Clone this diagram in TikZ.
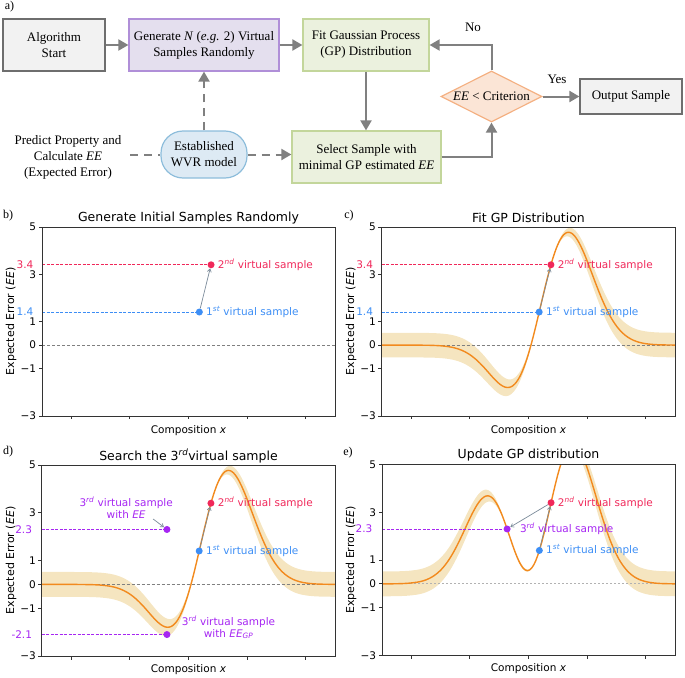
\documentclass[tikz,border=0pt]{standalone}
\usepackage{fontspec}
\setmainfont{Liberation Serif}
\newfontfamily\plotfont{DejaVu Sans}
\usetikzlibrary{shapes.geometric,arrows.meta}
\definecolor{grayfill}{HTML}{F2F2F2}
\definecolor{grayline}{HTML}{6E6E6E}
\definecolor{purfill}{HTML}{E4DFEE}
\definecolor{purline}{HTML}{B08FD8}
\definecolor{grnfill}{HTML}{EBF1DE}
\definecolor{grnline}{HTML}{C3D69B}
\definecolor{blufill}{HTML}{DDEAF4}
\definecolor{bluline}{HTML}{8DBDDB}
\definecolor{orfill}{HTML}{FBE5D6}
\definecolor{orline}{HTML}{F4B183}
\definecolor{arrgray}{HTML}{808080}
\definecolor{ptred}{HTML}{F0285A}
\definecolor{ptblue}{HTML}{3D8EF5}
\definecolor{ptpurple}{HTML}{A626F2}
\definecolor{curvec}{HTML}{F28A1E}
\definecolor{bandc}{HTML}{F5E5C0}
\definecolor{annarrowc}{HTML}{7A8A99}
\definecolor{spinec}{HTML}{333333}
\tikzset{
 fbox/.style={draw, line width=1.2pt, align=center, font=\fontsize{13}{16}\selectfont, inner sep=2pt},
 flowarrow/.style={draw=arrgray, line width=2pt, -{Triangle[length=10pt,width=11pt]}},
 dasharrow/.style={flowarrow, dash pattern=on 8pt off 6pt},
 dashline/.style={draw=arrgray, line width=2pt, dash pattern=on 8pt off 6pt},
 ptnode/.style={circle, inner sep=0pt, minimum size=7pt},
 annarr/.style={draw=annarrowc, line width=0.7pt, -{Straight Barb[length=3pt,width=4pt]}},
 lbl/.style={font=\plotfont\fontsize{10.5}{12}\selectfont, inner sep=0pt},
 ttl/.style={font=\plotfont\fontsize{12.5}{14}\selectfont, inner sep=0pt},
 ylbl/.style={font=\plotfont\fontsize{11}{13}\selectfont, rotate=90, inner sep=0pt},
 panel/.style={font=\fontsize{12}{14}\selectfont, inner sep=0pt},
 spine/.style={draw=spinec, line width=0.9pt},
 zline/.style={draw=gray, line width=0.8pt, dash pattern=on 3pt off 2pt},
 refline/.style={line width=0.8pt, dash pattern=on 3pt off 1.5pt},
 gpcurve/.style={draw=curvec, line width=1.4pt},
}
\newcommand\drawaxes[1]{%
 \draw[spine] (0,-3) rectangle (10,5);
 \foreach \t/\l [count=\i] in {5/5,3/3,1/1,0/0,-1/−1,-3/−3}{
   \draw[spine] (0,\t) -- ++(-3.5pt,0) node[lbl, anchor=east, inner sep=2pt] (#1y\i) {\l};
 }
 \foreach \t [count=\i] in {1,3,5,7,9}{
   \draw[spine] (\t,-3) -- ++(0,-3.5pt) coordinate (#1x\i);
 }
}
\newcommand\bandB{\fill[bandc] plot[domain=0:10,samples=201] (\x,{mB(\x)+hB(\x)}) -- plot[domain=10:0,samples=201] (\x,{mB(\x)-hB(\x)}) -- cycle;}
\newcommand\curveB{\draw[gpcurve] plot[domain=0:10,samples=201] (\x,{mB(\x)});}
\newcommand\bandE{\fill[bandc] plot[domain=0:10,samples=241] (\x,{mE(\x)+hE(\x)}) -- plot[domain=10:0,samples=241] (\x,{mE(\x)-hE(\x)}) -- cycle;}
\newcommand\curveE{\draw[gpcurve] plot[domain=0:10,samples=241] (\x,{mE(\x)});}
\begin{document}
\begin{tikzpicture}[x=1pt,y=-1pt,
 declare function={
  gk(\u,\c)=exp(-0.5*(\u-\c)*(\u-\c));
  mB(\u)=-11.75863*gk(\u,5.37)+14.25458*gk(\u,5.77);
  qB(\a,\b)=1-6.76329*(\a*\a+\b*\b-1.846232*\a*\b);
  hB(\u)=0.52*sqrt(max(qB(gk(\u,5.37),gk(\u,5.77)),0));
  mE(\u)=8.45646*gk(\u,4.27)-25.85014*gk(\u,5.37)+24.51718*gk(\u,5.77);
  qE(\a,\b,\c)=1-(2.06593*\a*\a+12.49983*\b*\b+9.80596*\c*\c-6.88518*\a*\b+5.01438*\a*\c-20.84232*\b*\c);
  hE(\u)=0.52*sqrt(max(qE(gk(\u,4.27),gk(\u,5.37),gk(\u,5.77)),0));
 }]
\useasboundingbox (0,0) rectangle (685,677);
% ---------------- flowchart ----------------
\node[panel] (pa) at (9.5,7) {a)};
\node[fbox, fill=grayfill, draw=grayline, minimum width=102pt, minimum height=52pt] (start) at (54,45) {Algorithm\\Start};
\node[fbox, fill=purfill, draw=purline, minimum width=150pt, minimum height=52pt] (gen) at (204,45) {Generate \textit{N} (\textit{e.g.} 2) Virtual\\Samples Randomly};
\node[fbox, fill=grnfill, draw=grnline, minimum width=126pt, minimum height=52pt] (fit) at (366,45) {Fit Gaussian Process\\(GP) Distribution};
\node[fbox, fill=blufill, draw=bluline, rounded corners=22pt, minimum width=86pt, minimum height=47pt] (wvr) at (204,154.5) {Established\\WVR model};
\node[fbox, fill=grnfill, draw=grnline, minimum width=149pt, minimum height=52pt] (sel) at (366.5,157) {Select Sample with\\minimal GP estimated \textit{EE}};
\node[fbox, diamond, aspect=2, inner sep=0pt, fill=orfill, draw=orline, minimum width=101pt, minimum height=51pt] (dia) at (491.5,96.5) {\textit{EE} < Criterion};
\node[fbox, fill=grayfill, draw=grayline, minimum width=102pt, minimum height=35pt] (out) at (631,96.5) {Output Sample};
\node[align=center, font=\fontsize{13}{16}\selectfont, inner sep=0pt] (pred) at (68,157) {Predict Property and\\Calculate \textit{EE}\\(Expected Error)};
\coordinate (predE) at (130,154.5);
\node[font=\fontsize{13}{16}\selectfont, inner sep=0pt] (no) at (473,27) {No};
\node[font=\fontsize{13}{16}\selectfont, inner sep=0pt] (yes) at (557,79) {Yes};
\draw[flowarrow] (start) -- (gen);
\draw[flowarrow] (gen) -- (fit);
\draw[flowarrow] (fit.south) -- (fit.south |- sel.north);
\draw[flowarrow] (sel.east) -| (dia.south);
\draw[flowarrow] (dia.north) |- (fit.east);
\draw[flowarrow] (dia.east) -- (out.west);
\draw[dasharrow] (wvr.north) -- (gen.south);
\draw[dashline] (predE) -- (wvr.west);
\draw[dasharrow] (wvr.east) -- (wvr.east -| sel.west);
% ---------------- panel b ----------------
\node[panel] (pb) at (8,216) {b)};
\node[ttl] (tb) at (188.5,218) {Generate Initial Samples Randomly};
\node[ylbl] (ylb) at (11,321.5) {Expected Error (\textit{EE})};
\node[lbl] (xlb) at (188.5,431) {Composition \textit{x}};
\begin{scope}[shift={(42pt,-345.1pt)}, x=29.3pt, y=23.625pt]
 \draw[zline] (0,0) -- (10,0);
 \draw[refline, ptred] (0,3.4) -- (5.77,3.4);
 \draw[refline, ptblue] (0,1.4) -- (5.37,1.4);
 \drawaxes{b}
 \node[ptnode, fill=ptblue] (b1) at (5.37,1.4) {};
 \node[ptnode, fill=ptred] (b2) at (5.77,3.4) {};
 \draw[annarr] (b1) -- (b2);
 \node[lbl, anchor=west, text=ptblue] (b1l) at ([xshift=3pt]b1.east) {1\textsuperscript{\itshape st} virtual sample};
 \node[lbl, anchor=west, text=ptred] (b2l) at ([xshift=3pt]b2.east) {2\textsuperscript{\itshape nd} virtual sample};
 \node[lbl, anchor=east, text=ptred] (b34) at ([xshift=-8.5pt]0,3.4) {3.4};
 \node[lbl, anchor=east, text=ptblue] (b14) at ([xshift=-8.5pt]0,1.4) {1.4};
\end{scope}
% ---------------- panel c ----------------
\node[panel] (pc) at (349,216) {c)};
\node[ttl] (tc) at (528.5,218) {Fit GP Distribution};
\node[ylbl] (ylc) at (351,321.5) {Expected Error (\textit{EE})};
\node[lbl] (xlc) at (528.5,431) {Composition \textit{x}};
\begin{scope}[shift={(381.7pt,-345.1pt)}, x=29.33pt, y=23.625pt]
 \begin{scope}
  \clip (0,-3) rectangle (10,5);
  \bandB
  \draw[zline] (0,0) -- (10,0);
  \curveB
 \end{scope}
 \draw[refline, ptred] (0,3.4) -- (5.77,3.4);
 \draw[refline, ptblue] (0,1.4) -- (5.37,1.4);
 \drawaxes{c}
 \node[ptnode, fill=ptblue] (c1) at (5.37,1.4) {};
 \node[ptnode, fill=ptred] (c2) at (5.77,3.4) {};
 \draw[annarr] (c1) -- (c2);
 \node[lbl, anchor=west, text=ptblue] (c1l) at ([xshift=3pt]c1.east) {1\textsuperscript{\itshape st} virtual sample};
 \node[lbl, anchor=west, text=ptred] (c2l) at ([xshift=3pt]c2.east) {2\textsuperscript{\itshape nd} virtual sample};
 \node[lbl, anchor=east, text=ptred] (c34) at ([xshift=-8.5pt]0,3.4) {3.4};
 \node[lbl, anchor=east, text=ptblue] (c14) at ([xshift=-8.5pt]0,1.4) {1.4};
\end{scope}
% ---------------- panel d ----------------
\node[panel] (pd) at (8,452) {d)};
\node[ttl] (td) at (188.5,456) {Search the 3\textsuperscript{\itshape rd}virtual sample};
\node[ylbl] (yld) at (11,560.5) {Expected Error (\textit{EE})};
\node[lbl] (xld) at (188.5,670) {Composition \textit{x}};
\begin{scope}[shift={(41.7pt,-584.4pt)}, x=29.33pt, y=23.875pt]
 \begin{scope}
  \clip (0,-3) rectangle (10,5);
  \bandB
  \draw[zline] (0,0) -- (10,0);
  \curveB
 \end{scope}
 \draw[refline, ptpurple] (0,2.3) -- (4.27,2.3);
 \draw[refline, ptpurple] (0,-2.1) -- (4.27,-2.1);
 \drawaxes{d}
 \node[ptnode, fill=ptblue] (d1) at (5.37,1.4) {};
 \node[ptnode, fill=ptred] (d2) at (5.77,3.4) {};
 \node[ptnode, fill=ptpurple] (d3) at (4.27,2.3) {};
 \node[ptnode, fill=ptpurple] (d3g) at (4.27,-2.1) {};
 \draw[annarr] (d1) -- (d2);
 \node[lbl, anchor=west, text=ptblue] (d1l) at ([xshift=3pt]d1.east) {1\textsuperscript{\itshape st} virtual sample};
 \node[lbl, anchor=west, text=ptred] (d2l) at ([xshift=3pt]d2.east) {2\textsuperscript{\itshape nd} virtual sample};
 \node[lbl, align=center, text=ptpurple] (d3l) at (2.88,3.2) {3\textsuperscript{\itshape rd} virtual sample\\with \textit{EE}};
 \coordinate (d3a) at (3.8,2.74);
 \draw[annarr] (d3a) -- (d3);
 \node[lbl, align=center, text=ptpurple] (d3gl) at (6.37,-1.8) {3\textsuperscript{\itshape rd} virtual sample\\with \textit{EE}\textsubscript{\itshape GP}};
 \node[lbl, anchor=east, text=ptpurple] (d23) at ([xshift=-9.5pt]0,2.3) {2.3};
 \node[lbl, anchor=east, text=ptpurple] (d21) at ([xshift=-9.5pt]0,-2.1) {-2.1};
\end{scope}
% ---------------- panel e ----------------
\node[panel] (pe) at (348,453) {e)};
\node[ttl] (te) at (528.5,455) {Update GP distribution};
\node[ylbl] (yle) at (351,560) {Expected Error (\textit{EE})};
\node[lbl] (xle) at (528.5,668.7) {Composition \textit{x}};
\begin{scope}[shift={(382pt,-583.9pt)}, x=29.3pt, y=23.875pt]
 \begin{scope}
  \clip (0,-3) rectangle (10,5);
  \bandE
  \draw[draw=gray!60, line width=1pt, dash pattern=on 2pt off 2pt] (0,0) -- (10,0);
  \curveE
 \end{scope}
 \draw[refline, ptpurple] (0,2.3) -- (4.27,2.3);
 \drawaxes{e}
 \node[ptnode, fill=ptblue] (e1) at (5.37,1.4) {};
 \node[ptnode, fill=ptred] (e2) at (5.77,3.4) {};
 \node[ptnode, fill=ptpurple] (e3) at (4.27,2.3) {};
 \draw[annarr] (e1) -- (e2);
 \draw[annarr] (e2) -- (e3);
 \node[lbl, anchor=west, text=ptblue] (e1l) at ([xshift=3pt]e1.east) {1\textsuperscript{\itshape st} virtual sample};
 \node[lbl, anchor=west, text=ptred] (e2l) at ([xshift=3pt]e2.east) {2\textsuperscript{\itshape nd} virtual sample};
 \node[lbl, anchor=west, text=ptpurple] (e3l) at ([xshift=9pt]e3.east) {3\textsuperscript{\itshape rd} virtual sample};
 \node[lbl, anchor=east, text=ptpurple] (e23) at ([xshift=-9.5pt]0,2.3) {2.3};
\end{scope}
\end{tikzpicture}
\end{document}
